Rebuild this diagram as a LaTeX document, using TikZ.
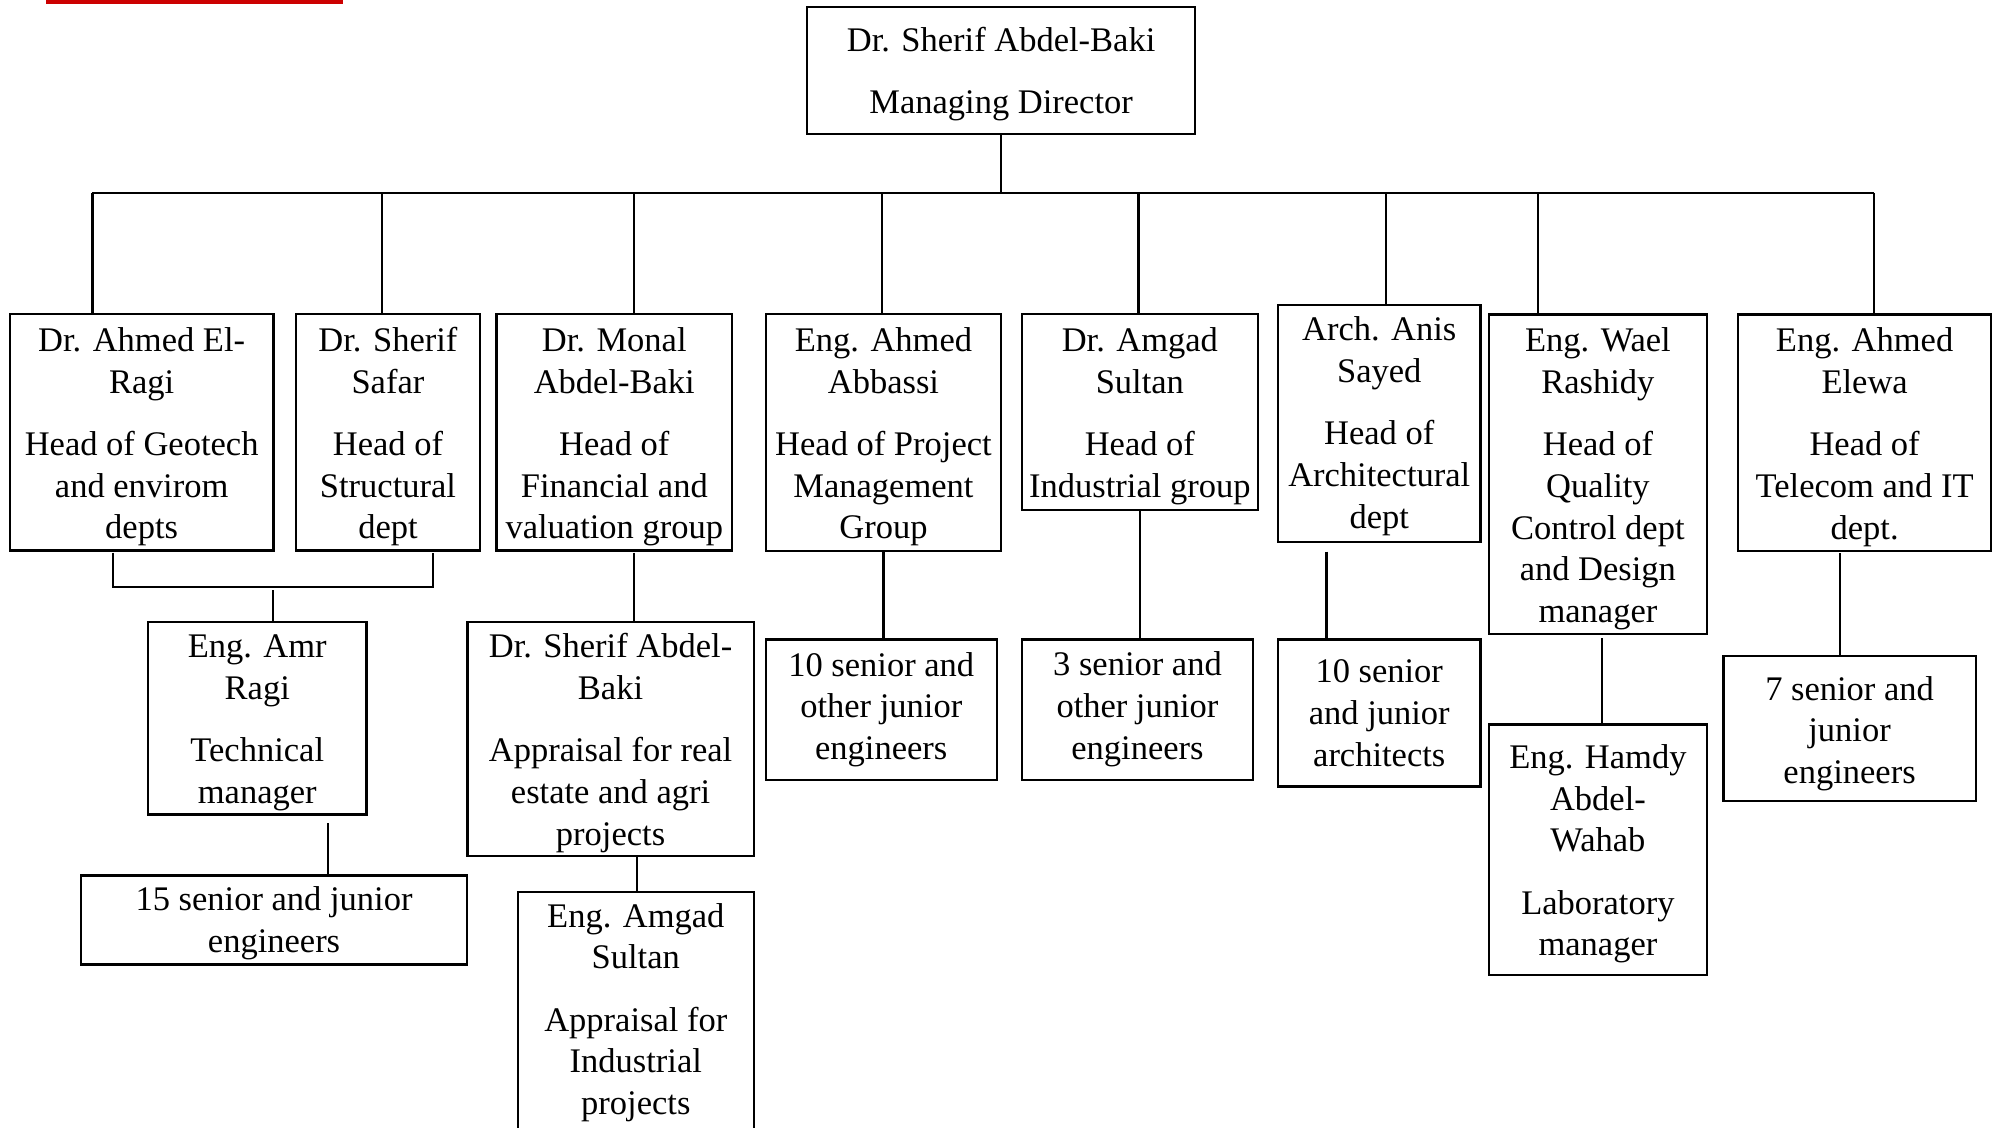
\documentclass[tikz,border=0pt]{standalone}
\usepackage{fontspec}
\setmainfont{Liberation Serif}
\usetikzlibrary{calc}
\definecolor{barred}{RGB}{204,0,0}
\tikzset{
  bx/.style={draw, line width=1.1pt, inner sep=0pt, anchor=north west},
  tx/.style={align=center, inner sep=0pt, anchor=north, font=\fontsize{17.25pt}{20.85pt}\selectfont},
  ln/.style={line width=1.1pt},
}
\newcommand\orgbox[7]{%
  \node[bx, minimum width={(#4-#2)*0.5pt}, minimum height={(#5-#3)*0.5pt}] (#1) at (#2,#3) {};
  \node[tx] (#1-t) at ($(#1.north)+(0,#6-32)$) {\rule{0pt}{16pt}#7};
}
\newcommand\pg{\\[10.3pt]}
\begin{document}
\begin{tikzpicture}[x=0.5pt,y=-0.5pt]
\useasboundingbox (0,0) rectangle (1995,1128);
\fill[barred] (46,0) rectangle (343,4);

\orgbox{md}{806}{6}{1194}{133}{44.7}{Dr. Sherif Abdel-Baki\pg Managing Director}
\orgbox{geo}{8.7}{313.3}{272.4}{549.3}{37.7}{Dr. Ahmed El-\\Ragi\pg Head of Geotech\\and envirom\\depts}
\orgbox{saf}{294.7}{313.3}{479}{549.3}{37.7}{Dr. Sherif\\Safar\pg Head of\\Structural\\dept}
\orgbox{mon}{495.4}{313.3}{731}{549.3}{37.7}{Dr. Monal\\Abdel-Baki\pg Head of\\Financial and\\valuation group}
\orgbox{abb}{764.5}{313.3}{1000.2}{550}{37.7}{Eng. Ahmed\\Abbassi\pg Head of Project\\Management\\Group}
\orgbox{amg}{1020.7}{313.3}{1256.8}{508.7}{37.7}{Dr. Amgad\\Sultan\pg Head of\\Industrial group}
\orgbox{arc}{1277}{304.3}{1479.3}{540.7}{36}{Arch. Anis\\Sayed\pg Head of\\Architectural\\dept}
\orgbox{wae}{1487.8}{313.5}{1705.8}{632.7}{37.9}{Eng. Wael\\Rashidy\pg Head of\\Quality\\Control dept\\and Design\\manager}
\orgbox{ele}{1737}{313.5}{1990}{550}{38}{Eng. Ahmed\\Elewa\pg Head of\\Telecom and IT\\dept.}
\orgbox{amr}{147}{620.7}{365.3}{813.3}{36.6}{Eng. Amr\\Ragi\pg Technical\\manager}
\orgbox{fif}{80.1}{874.3}{465.8}{963.3}{35.7}{15 senior and junior\\engineers}
\orgbox{sab}{466.3}{620.7}{752.6}{855}{36.6}{Dr. Sherif Abdel-\\Baki\pg Appraisal for real\\estate and agri\\projects}
\orgbox{asu}{516.8}{891}{752.6}{1140}{35.7}{Eng. Amgad\\Sultan\pg Appraisal for\\Industrial\\projects}
\orgbox{ten}{764.5}{638.3}{995.8}{779}{37.4}{10 senior and\\other junior\\engineers}
\orgbox{thr}{1020.7}{638.3}{1252}{779}{37}{3 senior and\\other junior\\engineers}
\orgbox{tar}{1277}{638.3}{1479.3}{785.3}{44}{10 senior\\and junior\\architects}
\orgbox{ham}{1487.8}{723.3}{1705.8}{974.2}{44.6}{Eng. Hamdy\\Abdel-\\Wahab\pg Laboratory\\manager}
\orgbox{sev}{1722.3}{655}{1974.6}{800}{44.6}{7 senior and\\junior\\engineers}

% bus
\coordinate (busL) at (92.4,193);
\coordinate (busR) at (1874,193);
\draw[ln] (md.south) -- (md.south |- busL);
\draw[ln] (busL) -- (busR);
\foreach \x/\n in {92.4/geo, 381.7/saf, 634/mon, 882.3/abb, 1138.5/amg, 1385.6/arc, 1538/wae, 1874/ele}{
  \coordinate (tmp) at (\x,193);
  \draw[ln] (tmp) -- (tmp |- \n.north);
}
% bracket under geo and saf
\coordinate (brL) at (113,552.7);
\coordinate (brR) at (432.8,552.7);
\coordinate (brM) at (272.9,586.7);
\draw[ln] (brL) -- (brL |- brM) -- (brR |- brM) -- (brR);
\coordinate (c1) at (272.9,590);
\draw[ln] (c1) -- (c1 |- amr.north);
\coordinate (c2) at (328,823.3);
\draw[ln] (c2) -- (c2 |- fif.north);
\coordinate (c3) at (634,552.7);
\draw[ln] (c3) -- (c3 |- sab.north);
\coordinate (c4) at (636.7,856.7);
\draw[ln] (c4) -- (c4 |- asu.north);
\draw[ln] (abb.south) -- (abb.south |- ten.north);
\draw[ln] (amg.south) -- (amg.south |- thr.north);
\coordinate (c5) at (1326.4,551.7);
\draw[ln] (c5) -- (c5 |- tar.north);
\coordinate (c6) at (1601.8,638);
\draw[ln] (c6) -- (c6 |- ham.north);
\coordinate (c7) at (1840.2,553.2);
\draw[ln] (c7) -- (c7 |- sev.north);
\end{tikzpicture}
\end{document}
